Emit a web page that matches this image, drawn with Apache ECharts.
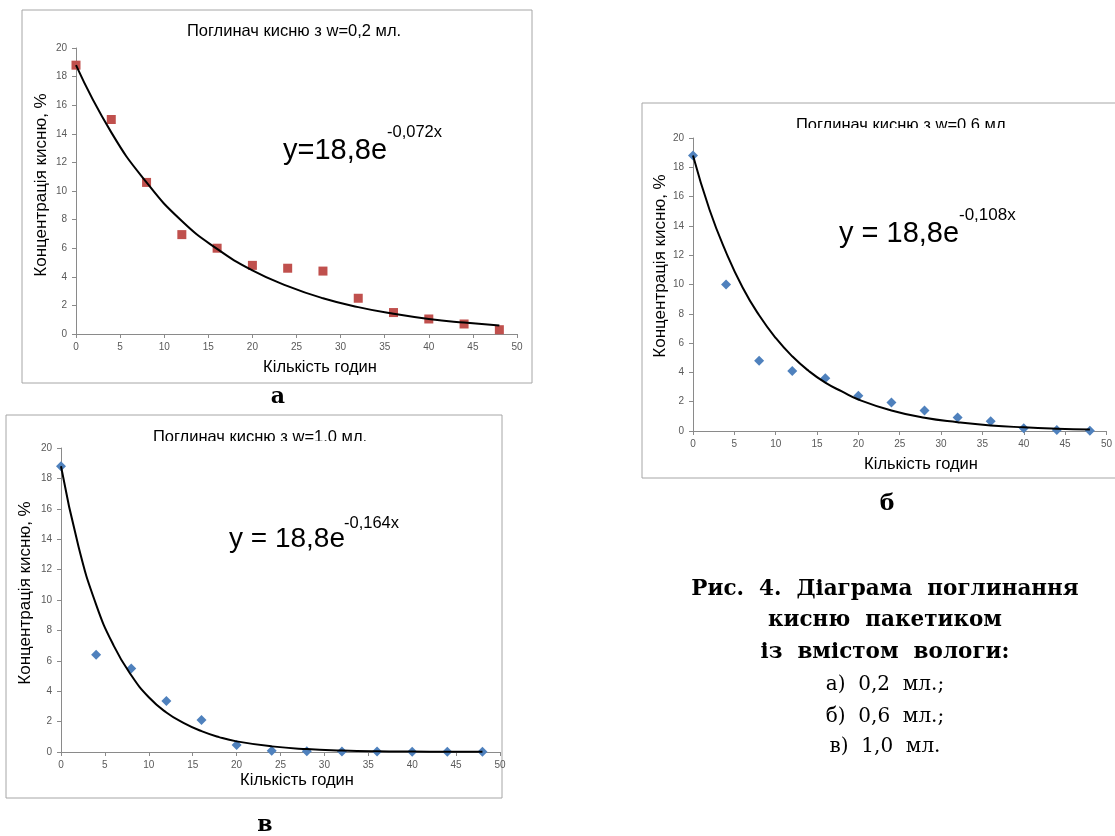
<!DOCTYPE html>
<html>
<head>
<meta charset="utf-8">
<script src="https://cdn.jsdelivr.net/npm/echarts@6/dist/echarts.min.js"></script>
<style>
  html, body { margin: 0; padding: 0; background: #fff; }
  #chart { width: 1115px; height: 836px; }
</style>
</head>
<body>
<div id="chart"></div>
<script>
// години (вісь x)
var hours = [0, 4, 8, 12, 16, 20, 24, 28, 32, 36, 40, 44, 48];

// виміряна концентрація кисню, %
var oxygenA = [18.8, 15.0, 10.6, 6.95, 6.0, 4.8, 4.6, 4.4, 2.5, 1.5, 1.05, 0.7, 0.3];   // w=0,2
var oxygenB = [18.8, 10.0, 4.8, 4.1, 3.6, 2.4, 1.95, 1.4, 0.92, 0.66, 0.18, 0.07, 0.02]; // w=0,6
var oxygenC = [18.8, 6.4, 5.5, 3.35, 2.1, 0.46, 0.08, 0.05, 0.04, 0.03, 0.02, 0.02, 0.01]; // w=1,0

// лінії тренду, зчитані з графіків
var trendXA = [0, 4, 8, 12, 16, 20, 24, 28, 32, 36, 40, 44, 48];
var trendA = [18.8, 14.1, 10.6, 7.9, 5.95, 4.45, 3.35, 2.5, 1.88, 1.41, 1.05, 0.8, 0.6];
var trendXB = [0, 2, 4, 6, 8, 10, 12, 14, 16, 18, 20, 24, 28, 32, 36, 40, 44, 48];
var trendB = [18.8, 15.1, 12.2, 9.8, 7.9, 6.35, 5.1, 4.1, 3.3, 2.7, 2.15, 1.4, 0.9, 0.6, 0.38, 0.25, 0.16, 0.1];
var trendXC = [0, 2, 4, 6, 8, 10, 12, 14, 16, 18, 20, 24, 28, 32, 36, 40, 44, 48];
var trendC = [18.8, 13.5, 9.7, 7.0, 5.05, 3.6, 2.6, 1.9, 1.37, 0.98, 0.7, 0.37, 0.19, 0.1, 0.05, 0.03, 0.02, 0.01];

var titles = ["Поглинач кисню з w=0,2 мл.", "Поглинач кисню з w=0,6 мл.", "Поглинач кисню з w=1,0 мл."];
var equations = [["y=18,8e", "-0,072x"], ["y = 18,8e", "-0,108x"], ["y = 18,8e", "-0,164x"]];
var captionLines = ["Рис.  4.  Діаграма  поглинання", "кисню  пакетиком", "із  вмістом  вологи:", "а)  0,2  мл.;", "б)  0,6  мл.;", "в)  1,0  мл."];

function zip(xs, ys) {
  return xs.map(function (x, i) { return [x, ys[i]]; });
}

var myChart = echarts.init(document.getElementById("chart"));

var axisColor = "#8a8a8a";
var labelStyle = { color: "#595959", fontSize: 10, fontFamily: "Liberation Sans" };

function xAxisFor(i) {
  return {
    gridIndex: i, type: "value", min: 0, max: 50, interval: 5,
    axisLine: { lineStyle: { color: axisColor } },
    axisTick: { show: true, length: 4, lineStyle: { color: axisColor } },
    axisLabel: Object.assign({ margin: 8 }, labelStyle),
    splitLine: { show: false }
  };
}
function yAxisFor(i) {
  return {
    gridIndex: i, type: "value", min: 0, max: 20, interval: 2,
    axisLine: { show: true, lineStyle: { color: axisColor } },
    axisTick: { show: true, length: 4, lineStyle: { color: axisColor } },
    axisLabel: Object.assign({ margin: 9 }, labelStyle),
    splitLine: { show: false }
  };
}

var font = "Liberation Sans";
function txt(x, y, text, size, opts) {
  return Object.assign({
    type: "text", x: x, y: y,
    style: { text: text, fontSize: size, fontFamily: font, fill: "#000", align: "center", verticalAlign: "middle" }
  }, opts || {});
}
function eq(x, y, text, size) {
  return { type: "text", x: x, y: y, style: { text: text, fontSize: size, fontFamily: font, fill: "#000", verticalAlign: "alphabetic" } };
}
function letter(x, y, text) {
  return {
    type: "text", x: x, y: y,
    style: { text: text, fontSize: 22, fontWeight: "bold", fontFamily: "DejaVu Serif", fill: "#000", align: "center", verticalAlign: "middle" }
  };
}

var graphics = [
  // рамки
  { type: "rect", shape: { x: 22, y: 10, width: 510, height: 373 }, style: { fill: null, stroke: "#a6a6a6", lineWidth: 1 } },
  { type: "rect", shape: { x: 642, y: 103, width: 480, height: 375 }, style: { fill: null, stroke: "#a6a6a6", lineWidth: 1 } },
  { type: "rect", shape: { x: 6, y: 415, width: 496, height: 383 }, style: { fill: null, stroke: "#a6a6a6", lineWidth: 1 } },

  // заголовки
  txt(294, 31, titles[0], 16.5),
  txt(903, 125, titles[1], 16.5),
  txt(260, 437, titles[2], 16.5),
  // нижня частина заголовків б і в обрізана
  { type: "rect", shape: { x: 780, y: 128, width: 250, height: 6 }, style: { fill: "#fff" } },
  { type: "rect", shape: { x: 140, y: 441, width: 250, height: 6 }, style: { fill: "#fff" } },

  // осі x
  txt(320, 367, "Кількість годин", 16.5),
  txt(921, 464, "Кількість годин", 16.5),
  txt(297, 780, "Кількість годин", 16.5),

  // осі y
  txt(41, 185, "Концентрація кисню, %", 17, { rotation: Math.PI / 2 }),
  txt(660, 266, "Концентрація кисню, %", 17, { rotation: Math.PI / 2 }),
  txt(25, 593, "Концентрація кисню, %", 17, { rotation: Math.PI / 2 }),

  // рівняння
  eq(283, 136, equations[0][0], 29),
  eq(387, 124, equations[0][1], 16.5),
  eq(839, 219, equations[1][0], 29),
  eq(959, 207, equations[1][1], 17),
  eq(229, 525, equations[2][0], 28),
  eq(344, 515, equations[2][1], 16.5),

  // підписи а, б, в
  letter(278, 397, "а"),
  letter(887, 504, "б"),
  letter(265, 825, "в")
];

// підпис рисунка
var captionY = [589, 620, 652, 685, 717, 747];
captionLines.forEach(function (line, i) {
  graphics.push({
    type: "text", x: 885, y: captionY[i],
    style: {
      text: line, fontSize: i < 3 ? 21.5 : 20, fontFamily: "DejaVu Serif",
      fontWeight: i < 3 ? "bold" : "normal",
      fill: "#000", align: "center", verticalAlign: "middle"
    }
  });
});

myChart.setOption({
  animation: false,
  backgroundColor: "#fff",
  grid: [
    { left: 76, top: 48, width: 441, height: 286 },
    { left: 693, top: 138, width: 418, height: 293 },
    { left: 61, top: 448, width: 439, height: 304 }
  ],
  xAxis: [xAxisFor(0), xAxisFor(1), xAxisFor(2)],
  yAxis: [yAxisFor(0), yAxisFor(1), yAxisFor(2)],
  series: [
    {
      type: "scatter", xAxisIndex: 0, yAxisIndex: 0, data: zip(hours, oxygenA),
      symbol: "rect", symbolSize: 9, itemStyle: { color: "#c0504d", opacity: 1 }, z: 2
    },
    {
      type: "line", xAxisIndex: 0, yAxisIndex: 0, data: zip(trendXA, trendA),
      smooth: true, showSymbol: false, lineStyle: { color: "#000", width: 2 }, z: 3
    },
    {
      type: "scatter", xAxisIndex: 1, yAxisIndex: 1, data: zip(hours, oxygenB),
      symbol: "diamond", symbolSize: 10, itemStyle: { color: "#4f81bd", opacity: 1 }, z: 2
    },
    {
      type: "line", xAxisIndex: 1, yAxisIndex: 1, data: zip(trendXB, trendB),
      smooth: true, showSymbol: false, lineStyle: { color: "#000", width: 2 }, z: 3
    },
    {
      type: "scatter", xAxisIndex: 2, yAxisIndex: 2, data: zip(hours, oxygenC),
      symbol: "diamond", symbolSize: 10, itemStyle: { color: "#4f81bd", opacity: 1 }, z: 2
    },
    {
      type: "line", xAxisIndex: 2, yAxisIndex: 2, data: zip(trendXC, trendC),
      smooth: true, showSymbol: false, lineStyle: { color: "#000", width: 2 }, z: 3
    }
  ],
  graphic: graphics
});
</script>
</body>
</html>
